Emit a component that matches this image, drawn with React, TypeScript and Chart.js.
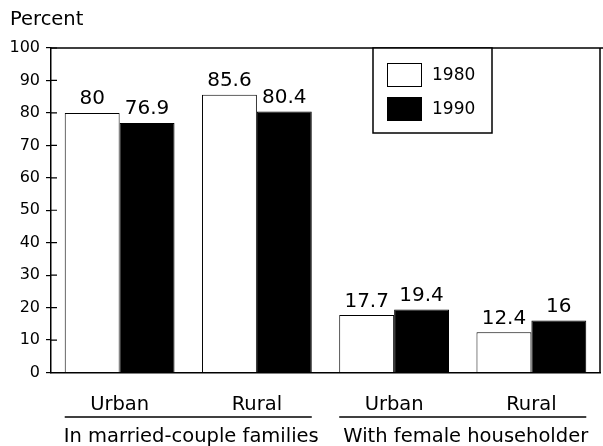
import React, { useEffect, useRef } from "react";
import { Chart, registerables } from "chart.js";

Chart.register(...registerables);

const categories = ["Urban", "Rural", "Urban", "Rural"];
const groupLabels = ["In married-couple families", "With female householder"];
const groupStart = [0, 2];
const groupEnd = [1, 3];
const seriesNames = ["1980", "1990"];
const values1980 = [80, 85.6, 17.7, 12.4];
const values1990 = [76.9, 80.4, 19.4, 16];
const yMin = 0;
const yMax = 100;
const yStep = 10;
const yTitle = "Percent";

const FONT = "'DejaVu Sans', sans-serif";

const decorPlugin = {
  id: "decor",
  afterDatasetsDraw(chart: any) {
    const ctx = chart.ctx;
    ctx.save();
    ctx.fillStyle = "#000";
    ctx.font = `20px ${FONT}`;
    ctx.textAlign = "center";
    ctx.textBaseline = "alphabetic";
    chart.data.datasets.forEach((ds: any, di: number) => {
      const meta = chart.getDatasetMeta(di);
      meta.data.forEach((bar: any, i: number) => {
        ctx.fillText(String(ds.data[i]), bar.x, bar.y - 8.5);
      });
    });
    ctx.restore();
  },
  afterDraw(chart: any) {
    const ctx = chart.ctx;
    const area = chart.chartArea;
    const y = chart.scales.y;
    ctx.save();
    ctx.strokeStyle = "#000";
    ctx.fillStyle = "#000";
    ctx.lineWidth = 1.5;
    // frame: top and right
    ctx.beginPath();
    ctx.moveTo(area.left, area.top);
    ctx.lineTo(chart.width, area.top);
    ctx.moveTo(area.right, area.top);
    ctx.lineTo(area.right, area.bottom);
    ctx.stroke();
    // inner part of the y tick marks
    ctx.lineWidth = 1.2;
    ctx.beginPath();
    y.ticks.forEach((t: any) => {
      const py = y.getPixelForValue(t.value);
      ctx.moveTo(area.left, py);
      ctx.lineTo(area.left + 6, py);
    });
    ctx.stroke();

    // legend box
    const lx = 373;
    const ly = area.top;
    const lw = 119;
    const lh = 85;
    ctx.fillStyle = "#fff";
    ctx.fillRect(lx, ly, lw, lh);
    ctx.lineWidth = 1.5;
    ctx.strokeRect(lx, ly, lw, lh);
    ctx.font = `17px ${FONT}`;
    ctx.textAlign = "left";
    ctx.textBaseline = "middle";
    chart.data.datasets.forEach((ds: any, i: number) => {
      const sy = ly + 15 + i * 34;
      ctx.fillStyle = ds.backgroundColor;
      ctx.fillRect(lx + 14, sy, 35, 24);
      ctx.lineWidth = 1;
      ctx.strokeStyle = "#000";
      ctx.strokeRect(lx + 14.5, sy + 0.5, 34, 23);
      ctx.fillStyle = "#000";
      ctx.fillText(ds.label, lx + 59, sy + 13);
    });

    // group labels with underlines
    const meta0 = chart.getDatasetMeta(0);
    const meta1 = chart.getDatasetMeta(1);
    ctx.font = `19.5px ${FONT}`;
    ctx.textAlign = "center";
    ctx.textBaseline = "middle";
    ctx.lineWidth = 1.5;
    groupLabels.forEach((lab, g) => {
      const b0 = meta0.data[groupStart[g]];
      const b1 = meta1.data[groupEnd[g]];
      const x0 = b0.x - b0.width / 2;
      const x1 = b1.x + b1.width / 2;
      ctx.beginPath();
      ctx.moveTo(x0, 417);
      ctx.lineTo(x1, 417);
      ctx.stroke();
      ctx.fillText(lab, (x0 + x1) / 2 + 3, 437);
    });

    // y title
    ctx.font = `19.5px ${FONT}`;
    ctx.textAlign = "left";
    ctx.fillText(yTitle, 10, 20);
    ctx.restore();
  },
};

export default function App() {
  const ref = useRef<HTMLCanvasElement | null>(null);
  useEffect(() => {
    if (!ref.current) return;
    const chart = new Chart(ref.current, {
      type: "bar",
      data: {
        labels: categories,
        datasets: [
          {
            label: seriesNames[0],
            data: values1980,
            backgroundColor: "#ffffff",
            borderColor: "#000000",
            borderWidth: 1,
          },
          {
            label: seriesNames[1],
            data: values1990,
            backgroundColor: "#000000",
            borderColor: "#000000",
            borderWidth: 1,
          },
        ],
      },
      options: {
        animation: false,
        responsive: false,
        maintainAspectRatio: false,
        layout: { padding: { top: 48, right: 3, bottom: 0, left: 0 } },
        plugins: {
          legend: { display: false },
          tooltip: { enabled: false },
        },
        datasets: {
          bar: { categoryPercentage: 0.8, barPercentage: 1.0 },
        },
        scales: {
          x: {
            grid: { display: false, drawTicks: false },
            border: { display: true, color: "#000", width: 1.5 },
            ticks: {
              color: "#000",
              font: { family: FONT, size: 19.5 },
              padding: 21,
              maxRotation: 0,
            },
            afterFit: (s: any) => {
              s.height = 73.5;
            },
          },
          y: {
            min: yMin,
            max: yMax,
            grid: { drawOnChartArea: false, tickLength: 5, color: "#000", lineWidth: 1.2 },
            border: { display: true, color: "#000", width: 1.5 },
            ticks: {
              stepSize: yStep,
              color: "#000",
              font: { family: FONT, size: 16 },
              padding: 6,
            },
            afterFit: (s: any) => {
              s.width = 51;
            },
          },
        },
      },
      plugins: [decorPlugin],
    });
    return () => chart.destroy();
  }, []);
  return (
    <div style={{ position: "absolute", left: 0, top: 0, width: 603, height: 446, background: "#fff" }}>
      <canvas ref={ref} width={603} height={446} style={{ width: 603, height: 446 }} />
    </div>
  );
}
